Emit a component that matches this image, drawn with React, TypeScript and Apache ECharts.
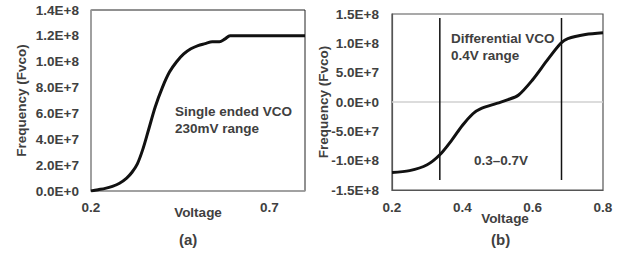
import { useEffect, useRef } from "react";
import * as echarts from "echarts";

// Panel (a): single ended VCO
const voltageA = [0.2, 0.22, 0.24, 0.26, 0.28, 0.3, 0.315, 0.33, 0.345, 0.36, 0.38, 0.4, 0.42, 0.44, 0.46, 0.48, 0.5, 0.52, 0.54, 0.56, 0.575, 0.59, 0.8];
const freqA = [0, 1.0e6, 2.0e6, 3.6e6, 6.0e6, 1.0e7, 1.45e7, 2.1e7, 3.2e7, 4.6e7, 6.5e7, 8.0e7, 9.2e7, 1.0e8, 1.06e8, 1.1e8, 1.125e8, 1.14e8, 1.155e8, 1.155e8, 1.175e8, 1.2e8, 1.2e8];

// Panel (b): differential VCO
const voltageB = [0.2, 0.25, 0.3, 0.336, 0.37, 0.4, 0.43, 0.45, 0.5, 0.53, 0.56, 0.6, 0.64, 0.68, 0.7, 0.75, 0.8];
const freqB = [-1.2e8, -1.17e8, -1.07e8, -0.9e8, -6.5e7, -4.0e7, -2.0e7, -1.2e7, -2e6, 4e6, 1.2e7, 3.8e7, 7.0e7, 1.0e8, 1.08e8, 1.15e8, 1.18e8];

// Range markers in (b)
const markerVoltages = [0.336, 0.682];
const markerSpan = [-1.33e8, 1.43e8];

const xTicksA = ["0.2", "0.7"];

const FONT = "'Liberation Sans', Arial, sans-serif";
const TXT = "#404040";

function sci(v: number): string {
  if (Math.abs(v) < 1) return "0.0E+0";
  const s = v < 0 ? "-" : "";
  const a = Math.abs(v);
  let e = Math.floor(Math.log10(a) + 1e-9);
  let m = a / Math.pow(10, e);
  if (m >= 9.95) {
    m /= 10;
    e++;
  }
  return s + m.toFixed(1) + "E+" + e;
}

export default function App() {
  const ref = useRef<HTMLDivElement>(null);
  useEffect(() => {
    const chart = echarts.init(ref.current!, null, { renderer: "svg" });
    const labelStyle = { fontFamily: FONT, fontWeight: "bold" as const, fontSize: 13.5, color: TXT };
    const seriesA = voltageA.map((v, i) => [v, freqA[i]]);
    const seriesB = voltageB.map((v, i) => [v, freqB[i]]);
    const markers = markerVoltages.map((v) => ({
      type: "line",
      xAxisIndex: 1,
      yAxisIndex: 1,
      symbol: "none",
      silent: true,
      lineStyle: { color: "#111", width: 1.5 },
      data: markerSpan.map((y) => [v, y]),
    }));
    chart.setOption({
      animation: false,
      backgroundColor: "#fff",
      grid: [
        { left: 91, top: 10, width: 214, height: 181, show: true, borderColor: "#222", borderWidth: 1 },
        { left: 392, top: 14, width: 211, height: 176, show: true, borderColor: "#555", borderWidth: 1.2 },
      ],
      xAxis: [
        {
          gridIndex: 0,
          type: "value",
          min: 0.2,
          max: 0.8,
          interval: 0.1,
          axisLine: { show: true, lineStyle: { color: "#a6a6a6", width: 1.5 } },
          axisTick: { show: false },
          splitLine: { show: false },
          axisLabel: {
            ...labelStyle,
            margin: 9,
            formatter: (v: number) => {
              const s = v.toFixed(1);
              return xTicksA.includes(s) ? s : "";
            },
          },
          name: "Voltage",
          nameLocation: "middle",
          nameGap: 14,
          nameMoveOverlap: false,
          nameTextStyle: labelStyle,
        },
        {
          gridIndex: 1,
          type: "value",
          min: 0.2,
          max: 0.8,
          interval: 0.2,
          axisLine: { show: true, onZero: false, lineStyle: { color: "#555", width: 1.2 } },
          axisTick: { show: false },
          splitLine: { show: false },
          axisLabel: { ...labelStyle, margin: 10, formatter: (v: number) => v.toFixed(1) },
          name: "Voltage",
          nameLocation: "middle",
          nameGap: 21,
          nameMoveOverlap: false,
          nameTextStyle: { ...labelStyle, padding: [0, 0, 0, 15] },
        },
      ],
      yAxis: [
        {
          gridIndex: 0,
          type: "value",
          min: 0,
          max: 1.4e8,
          interval: 2e7,
          axisLine: { show: true, lineStyle: { color: "#a6a6a6", width: 1.5 } },
          axisTick: { show: false },
          splitLine: { show: false },
          axisLabel: { ...labelStyle, margin: 12, formatter: sci },
          name: "Frequency (Fvco)",
          nameLocation: "middle",
          nameGap: 63,
          nameMoveOverlap: false,
          nameTextStyle: labelStyle,
        },
        {
          gridIndex: 1,
          type: "value",
          min: -1.5e8,
          max: 1.5e8,
          interval: 5e7,
          axisLine: { show: true, lineStyle: { color: "#555", width: 1.2 } },
          axisTick: { show: false },
          splitLine: { show: false },
          axisLabel: { ...labelStyle, margin: 13, formatter: sci },
          name: "Frequency (Fvco)",
          nameLocation: "middle",
          nameGap: 62,
          nameMoveOverlap: false,
          nameTextStyle: labelStyle,
        },
      ],
      series: [
        {
          type: "line",
          xAxisIndex: 0,
          yAxisIndex: 0,
          symbol: "none",
          smooth: 0.3,
          lineStyle: { color: "#111", width: 3 },
          data: seriesA,
        },
        {
          type: "line",
          xAxisIndex: 1,
          yAxisIndex: 1,
          symbol: "none",
          smooth: 0.3,
          lineStyle: { color: "#111", width: 3 },
          data: seriesB,
          z: 3,
          markLine: {
            silent: true,
            symbol: "none",
            label: { show: false },
            lineStyle: { color: "#d0d0d0", width: 1.5, type: "solid" },
            data: [{ yAxis: 0 }],
            z: 1,
          },
        },
        ...markers,
      ],
      graphic: [
        { type: "text", left: 175, top: 103, style: { text: "Single ended VCO\n230mV range", font: `bold 13.5px ${FONT}`, fill: TXT, lineHeight: 17 } },
        { type: "text", left: 451, top: 30, style: { text: "Differential VCO\n0.4V range", font: `bold 13.5px ${FONT}`, fill: TXT, lineHeight: 17 } },
        { type: "text", left: 474, top: 153, style: { text: "0.3–0.7V", font: `bold 13.5px ${FONT}`, fill: TXT } },
        { type: "text", left: 179, top: 232, style: { text: "(a)", font: `bold 15px ${FONT}`, fill: TXT } },
        { type: "text", left: 491, top: 232, style: { text: "(b)", font: `bold 15px ${FONT}`, fill: TXT } },
      ],
    });
    return () => chart.dispose();
  }, []);
  return (
    <div
      ref={ref}
      style={{ position: "fixed", left: 0, top: 0, width: 626, height: 265, background: "#fff" }}
    />
  );
}
